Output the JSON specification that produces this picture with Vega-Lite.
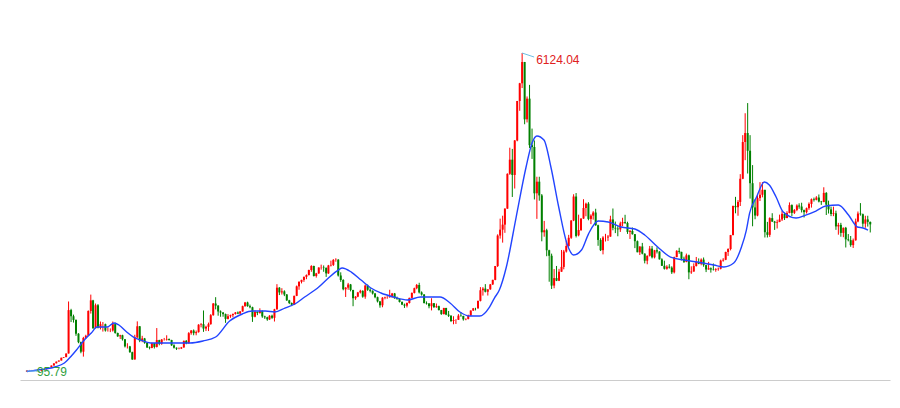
{
"$schema": "https://vega.github.io/schema/vega-lite/v6.json",
"width": 870, "height": 380,
"padding": {"left": 20, "top": 0, "right": 10, "bottom": 28},
"autosize": {"type": "none"},
"background": "white",
"config": {"view": {"stroke": null}},
"datasets": {
"k": [
{"t":"1990-12","o":96.05,"h":127.61,"l":95.79,"c":127.61},
{"t":"1991-01","o":127.61,"h":135,"l":127,"c":129.97},
{"t":"1991-02","o":130,"h":134.9,"l":129,"c":133.97},
{"t":"1991-03","o":134,"h":134.9,"l":118,"c":120.19},
{"t":"1991-04","o":120,"h":120.5,"l":112,"c":113.94},
{"t":"1991-05","o":114,"h":116,"l":104.96,"c":114.83},
{"t":"1991-06","o":115,"h":137.6,"l":114,"c":137.56},
{"t":"1991-07","o":137.6,"h":146,"l":136,"c":145.47},
{"t":"1991-08","o":145.5,"h":181,"l":145,"c":180.9},
{"t":"1991-09","o":181,"h":184,"l":177,"c":180.2},
{"t":"1991-10","o":180,"h":219,"l":180,"c":218.6},
{"t":"1991-11","o":219,"h":260,"l":219,"c":259.6},
{"t":"1991-12","o":260,"h":293,"l":259,"c":292.75},
{"t":"1992-01","o":293,"h":313,"l":292,"c":313.2},
{"t":"1992-02","o":313,"h":366,"l":313,"c":365.8},
{"t":"1992-03","o":366,"h":378,"l":360,"c":377.4},
{"t":"1992-04","o":377,"h":446,"l":376,"c":445.7},
{"t":"1992-05","o":446,"h":1429,"l":445,"c":1266},
{"t":"1992-06","o":1266,"h":1290,"l":1040,"c":1150},
{"t":"1992-07","o":1150,"h":1180,"l":1030,"c":1080},
{"t":"1992-08","o":1080,"h":1090,"l":780,"c":820},
{"t":"1992-09","o":820,"h":830,"l":640,"c":660},
{"t":"1992-10","o":660,"h":670,"l":450,"c":480},
{"t":"1992-11","o":480,"h":760,"l":386.85,"c":740},
{"t":"1992-12","o":740,"h":800,"l":720,"c":780.39},
{"t":"1993-01","o":780,"h":1260,"l":780,"c":1250},
{"t":"1993-02","o":1250,"h":1558.95,"l":1200,"c":1450},
{"t":"1993-03","o":1450,"h":1460,"l":910,"c":925},
{"t":"1993-04","o":925,"h":1390,"l":920,"c":1358},
{"t":"1993-05","o":1358,"h":1380,"l":920,"c":935},
{"t":"1993-06","o":935,"h":1050,"l":900,"c":1000},
{"t":"1993-07","o":1000,"h":1040,"l":860,"c":1000},
{"t":"1993-08","o":1000,"h":1010,"l":860,"c":880},
{"t":"1993-09","o":880,"h":940,"l":860,"c":880},
{"t":"1993-10","o":880,"h":920,"l":850,"c":880},
{"t":"1993-11","o":880,"h":1050,"l":860,"c":1000},
{"t":"1993-12","o":1000,"h":1030,"l":820,"c":833.8},
{"t":"1994-01","o":834,"h":840,"l":760,"c":770},
{"t":"1994-02","o":770,"h":800,"l":720,"c":790},
{"t":"1994-03","o":790,"h":800,"l":690,"c":715},
{"t":"1994-04","o":715,"h":720,"l":560,"c":580},
{"t":"1994-05","o":580,"h":640,"l":540,"c":580},
{"t":"1994-06","o":580,"h":590,"l":460,"c":470},
{"t":"1994-07","o":470,"h":480,"l":325.89,"c":333},
{"t":"1994-08","o":333,"h":800,"l":330,"c":750},
{"t":"1994-09","o":750,"h":1052.94,"l":740,"c":960},
{"t":"1994-10","o":960,"h":965,"l":660,"c":690},
{"t":"1994-11","o":690,"h":780,"l":660,"c":730},
{"t":"1994-12","o":730,"h":740,"l":630,"c":647.87},
{"t":"1995-01","o":648,"h":660,"l":550,"c":560},
{"t":"1995-02","o":560,"h":580,"l":524,"c":550},
{"t":"1995-03","o":550,"h":650,"l":545,"c":640},
{"t":"1995-04","o":640,"h":645,"l":540,"c":570},
{"t":"1995-05","o":570,"h":926.41,"l":560,"c":700},
{"t":"1995-06","o":700,"h":705,"l":600,"c":630},
{"t":"1995-07","o":630,"h":720,"l":610,"c":710},
{"t":"1995-08","o":710,"h":740,"l":690,"c":710},
{"t":"1995-09","o":710,"h":790,"l":690,"c":720},
{"t":"1995-10","o":720,"h":730,"l":690,"c":700},
{"t":"1995-11","o":700,"h":705,"l":590,"c":600},
{"t":"1995-12","o":600,"h":620,"l":540,"c":555.29},
{"t":"1996-01","o":555,"h":560,"l":512.83,"c":537},
{"t":"1996-02","o":537,"h":560,"l":525,"c":540},
{"t":"1996-03","o":540,"h":570,"l":530,"c":560},
{"t":"1996-04","o":560,"h":690,"l":555,"c":685},
{"t":"1996-05","o":685,"h":700,"l":620,"c":640},
{"t":"1996-06","o":640,"h":850,"l":635,"c":830},
{"t":"1996-07","o":830,"h":890,"l":800,"c":880},
{"t":"1996-08","o":880,"h":900,"l":790,"c":830},
{"t":"1996-09","o":830,"h":880,"l":790,"c":850},
{"t":"1996-10","o":850,"h":1000,"l":840,"c":990},
{"t":"1996-11","o":990,"h":1020,"l":940,"c":1000},
{"t":"1996-12","o":1000,"h":1258.69,"l":855,"c":917},
{"t":"1997-01","o":917,"h":970,"l":870,"c":950},
{"t":"1997-02","o":950,"h":1030,"l":870,"c":1000},
{"t":"1997-03","o":1000,"h":1190,"l":990,"c":1170},
{"t":"1997-04","o":1170,"h":1400,"l":1160,"c":1390},
{"t":"1997-05","o":1390,"h":1510.18,"l":1280,"c":1350},
{"t":"1997-06","o":1350,"h":1360,"l":1160,"c":1240},
{"t":"1997-07","o":1240,"h":1260,"l":1140,"c":1220},
{"t":"1997-08","o":1220,"h":1230,"l":1140,"c":1190},
{"t":"1997-09","o":1190,"h":1200,"l":1025,"c":1100},
{"t":"1997-10","o":1100,"h":1190,"l":1090,"c":1150},
{"t":"1997-11","o":1150,"h":1180,"l":1120,"c":1170},
{"t":"1997-12","o":1170,"h":1200,"l":1130,"c":1194},
{"t":"1998-01","o":1194,"h":1230,"l":1180,"c":1220},
{"t":"1998-02","o":1220,"h":1240,"l":1190,"c":1200},
{"t":"1998-03","o":1200,"h":1250,"l":1195,"c":1240},
{"t":"1998-04","o":1240,"h":1350,"l":1235,"c":1340},
{"t":"1998-05","o":1340,"h":1420,"l":1330,"c":1410},
{"t":"1998-06","o":1410,"h":1425,"l":1330,"c":1340},
{"t":"1998-07","o":1340,"h":1370,"l":1300,"c":1320},
{"t":"1998-08","o":1320,"h":1330,"l":1043,"c":1140},
{"t":"1998-09","o":1140,"h":1260,"l":1130,"c":1230},
{"t":"1998-10","o":1230,"h":1240,"l":1170,"c":1210},
{"t":"1998-11","o":1210,"h":1300,"l":1200,"c":1250},
{"t":"1998-12","o":1250,"h":1260,"l":1120,"c":1146},
{"t":"1999-01","o":1146,"h":1160,"l":1100,"c":1130},
{"t":"1999-02","o":1130,"h":1140,"l":1064,"c":1090},
{"t":"1999-03","o":1090,"h":1170,"l":1080,"c":1160},
{"t":"1999-04","o":1160,"h":1180,"l":1100,"c":1120},
{"t":"1999-05","o":1120,"h":1290,"l":1050,"c":1280},
{"t":"1999-06","o":1280,"h":1756,"l":1275,"c":1690},
{"t":"1999-07","o":1690,"h":1700,"l":1550,"c":1600},
{"t":"1999-08","o":1600,"h":1680,"l":1560,"c":1620},
{"t":"1999-09","o":1620,"h":1640,"l":1530,"c":1560},
{"t":"1999-10","o":1560,"h":1570,"l":1440,"c":1450},
{"t":"1999-11","o":1450,"h":1460,"l":1380,"c":1400},
{"t":"1999-12","o":1400,"h":1410,"l":1341,"c":1367},
{"t":"2000-01","o":1367,"h":1540,"l":1361,"c":1535},
{"t":"2000-02","o":1535,"h":1730,"l":1530,"c":1715},
{"t":"2000-03","o":1715,"h":1810,"l":1650,"c":1800},
{"t":"2000-04","o":1800,"h":1840,"l":1770,"c":1836},
{"t":"2000-05","o":1836,"h":1900,"l":1800,"c":1894},
{"t":"2000-06","o":1894,"h":1940,"l":1850,"c":1928},
{"t":"2000-07","o":1928,"h":2030,"l":1920,"c":2023},
{"t":"2000-08","o":2023,"h":2114,"l":1990,"c":2100},
{"t":"2000-09","o":2100,"h":2105,"l":1900,"c":1910},
{"t":"2000-10","o":1910,"h":1970,"l":1880,"c":1960},
{"t":"2000-11","o":1960,"h":2075,"l":1950,"c":2070},
{"t":"2000-12","o":2070,"h":2125,"l":2030,"c":2073},
{"t":"2001-01","o":2073,"h":2110,"l":1990,"c":2065},
{"t":"2001-02","o":2065,"h":2070,"l":1893,"c":1960},
{"t":"2001-03","o":1960,"h":2120,"l":1950,"c":2110},
{"t":"2001-04","o":2110,"h":2200,"l":2090,"c":2120},
{"t":"2001-05","o":2120,"h":2230,"l":2100,"c":2214},
{"t":"2001-06","o":2214,"h":2245.44,"l":2180,"c":2218},
{"t":"2001-07","o":2218,"h":2230,"l":1900,"c":1920},
{"t":"2001-08","o":1920,"h":1980,"l":1800,"c":1835},
{"t":"2001-09","o":1835,"h":1850,"l":1640,"c":1660},
{"t":"2001-10","o":1660,"h":1700,"l":1514,"c":1690},
{"t":"2001-11","o":1690,"h":1780,"l":1650,"c":1750},
{"t":"2001-12","o":1750,"h":1760,"l":1620,"c":1646},
{"t":"2002-01","o":1646,"h":1650,"l":1339,"c":1490},
{"t":"2002-02","o":1490,"h":1530,"l":1460,"c":1520},
{"t":"2002-03","o":1520,"h":1610,"l":1510,"c":1600},
{"t":"2002-04","o":1600,"h":1650,"l":1580,"c":1630},
{"t":"2002-05","o":1630,"h":1640,"l":1500,"c":1520},
{"t":"2002-06","o":1520,"h":1748,"l":1480,"c":1730},
{"t":"2002-07","o":1730,"h":1750,"l":1630,"c":1650},
{"t":"2002-08","o":1650,"h":1680,"l":1600,"c":1630},
{"t":"2002-09","o":1630,"h":1640,"l":1560,"c":1580},
{"t":"2002-10","o":1580,"h":1590,"l":1490,"c":1510},
{"t":"2002-11","o":1510,"h":1520,"l":1410,"c":1430},
{"t":"2002-12","o":1430,"h":1440,"l":1311,"c":1357},
{"t":"2003-01","o":1357,"h":1510,"l":1320,"c":1500},
{"t":"2003-02","o":1500,"h":1520,"l":1470,"c":1510},
{"t":"2003-03","o":1510,"h":1530,"l":1480,"c":1510},
{"t":"2003-04","o":1510,"h":1650,"l":1500,"c":1520},
{"t":"2003-05","o":1520,"h":1590,"l":1500,"c":1580},
{"t":"2003-06","o":1580,"h":1590,"l":1480,"c":1490},
{"t":"2003-07","o":1490,"h":1520,"l":1460,"c":1476},
{"t":"2003-08","o":1476,"h":1490,"l":1410,"c":1420},
{"t":"2003-09","o":1420,"h":1430,"l":1360,"c":1370},
{"t":"2003-10","o":1370,"h":1390,"l":1307,"c":1350},
{"t":"2003-11","o":1350,"h":1410,"l":1316,"c":1400},
{"t":"2003-12","o":1400,"h":1500,"l":1390,"c":1497},
{"t":"2004-01","o":1497,"h":1600,"l":1490,"c":1590},
{"t":"2004-02","o":1590,"h":1690,"l":1580,"c":1680},
{"t":"2004-03","o":1680,"h":1760,"l":1660,"c":1740},
{"t":"2004-04","o":1740,"h":1783,"l":1580,"c":1600},
{"t":"2004-05","o":1600,"h":1620,"l":1540,"c":1560},
{"t":"2004-06","o":1560,"h":1570,"l":1390,"c":1400},
{"t":"2004-07","o":1400,"h":1430,"l":1370,"c":1390},
{"t":"2004-08","o":1390,"h":1400,"l":1300,"c":1340},
{"t":"2004-09","o":1340,"h":1490,"l":1260,"c":1396},
{"t":"2004-10","o":1396,"h":1400,"l":1310,"c":1320},
{"t":"2004-11","o":1320,"h":1390,"l":1310,"c":1340},
{"t":"2004-12","o":1340,"h":1350,"l":1259,"c":1266},
{"t":"2005-01","o":1266,"h":1270,"l":1177,"c":1190},
{"t":"2005-02","o":1190,"h":1310,"l":1185,"c":1306},
{"t":"2005-03","o":1306,"h":1310,"l":1170,"c":1181},
{"t":"2005-04","o":1181,"h":1250,"l":1136,"c":1159},
{"t":"2005-05","o":1159,"h":1170,"l":1040,"c":1060},
{"t":"2005-06","o":1060,"h":1150,"l":998.23,"c":1080},
{"t":"2005-07","o":1080,"h":1090,"l":1004,"c":1083},
{"t":"2005-08","o":1083,"h":1190,"l":1080,"c":1162},
{"t":"2005-09","o":1162,"h":1230,"l":1140,"c":1155},
{"t":"2005-10","o":1155,"h":1160,"l":1067,"c":1092},
{"t":"2005-11","o":1092,"h":1110,"l":1074,"c":1099},
{"t":"2005-12","o":1099,"h":1180,"l":1090,"c":1161},
{"t":"2006-01","o":1161,"h":1260,"l":1160,"c":1258},
{"t":"2006-02","o":1258,"h":1306,"l":1250,"c":1299},
{"t":"2006-03","o":1299,"h":1310,"l":1260,"c":1298},
{"t":"2006-04","o":1298,"h":1445,"l":1295,"c":1440},
{"t":"2006-05","o":1440,"h":1700,"l":1430,"c":1641},
{"t":"2006-06","o":1641,"h":1700,"l":1540,"c":1672},
{"t":"2006-07","o":1672,"h":1757,"l":1600,"c":1613},
{"t":"2006-08","o":1613,"h":1660,"l":1541,"c":1658},
{"t":"2006-09","o":1658,"h":1760,"l":1650,"c":1752},
{"t":"2006-10","o":1752,"h":1840,"l":1740,"c":1837},
{"t":"2006-11","o":1837,"h":2100,"l":1830,"c":2099},
{"t":"2006-12","o":2099,"h":2698,"l":2080,"c":2675},
{"t":"2007-01","o":2675,"h":2994,"l":2617,"c":2786},
{"t":"2007-02","o":2786,"h":3050,"l":2541,"c":2881},
{"t":"2007-03","o":2881,"h":3190,"l":2726,"c":3183},
{"t":"2007-04","o":3183,"h":3850,"l":3180,"c":3841},
{"t":"2007-05","o":3841,"h":4335,"l":3822,"c":4109},
{"t":"2007-06","o":4109,"h":4312,"l":3404,"c":3820},
{"t":"2007-07","o":3820,"h":4480,"l":3563,"c":4471},
{"t":"2007-08","o":4471,"h":5218,"l":4456,"c":5218},
{"t":"2007-09","o":5218,"h":5560,"l":5032,"c":5552},
{"t":"2007-10","o":5552,"h":6124.04,"l":5462,"c":5954},
{"t":"2007-11","o":5954,"h":5956,"l":4778,"c":4871},
{"t":"2007-12","o":4871,"h":5303,"l":4812,"c":5262},
{"t":"2008-01","o":5262,"h":5522,"l":4330,"c":4383},
{"t":"2008-02","o":4383,"h":4696,"l":4123,"c":4348},
{"t":"2008-03","o":4348,"h":4472,"l":3357,"c":3473},
{"t":"2008-04","o":3473,"h":3786,"l":2990,"c":3693},
{"t":"2008-05","o":3693,"h":3786,"l":3333,"c":3433},
{"t":"2008-06","o":3433,"h":3459,"l":2566,"c":2736},
{"t":"2008-07","o":2736,"h":2952,"l":2653,"c":2775},
{"t":"2008-08","o":2775,"h":2803,"l":2284,"c":2397},
{"t":"2008-09","o":2397,"h":2406,"l":1802,"c":2293},
{"t":"2008-10","o":2293,"h":2333,"l":1664.93,"c":1729},
{"t":"2008-11","o":1729,"h":2041,"l":1678,"c":1871},
{"t":"2008-12","o":1871,"h":2100,"l":1814,"c":1821},
{"t":"2009-01","o":1821,"h":2045,"l":1814,"c":1991},
{"t":"2009-02","o":1991,"h":2402,"l":1991,"c":2082},
{"t":"2009-03","o":2082,"h":2403,"l":2037,"c":2373},
{"t":"2009-04","o":2373,"h":2579,"l":2353,"c":2477},
{"t":"2009-05","o":2477,"h":2688,"l":2461,"c":2633},
{"t":"2009-06","o":2633,"h":2965,"l":2612,"c":2959},
{"t":"2009-07","o":2959,"h":3455,"l":2947,"c":3412},
{"t":"2009-08","o":3412,"h":3478,"l":2639,"c":2667},
{"t":"2009-09","o":2680,"h":3069,"l":2660,"c":2779},
{"t":"2009-10","o":2779,"h":3000,"l":2760,"c":2996},
{"t":"2009-11","o":2996,"h":3361,"l":2990,"c":3195},
{"t":"2009-12","o":3195,"h":3296,"l":3039,"c":3277},
{"t":"2010-01","o":3277,"h":3306,"l":2963,"c":2989},
{"t":"2010-02","o":2989,"h":3076,"l":2890,"c":3051},
{"t":"2010-03","o":3051,"h":3136,"l":2975,"c":3110},
{"t":"2010-04","o":3110,"h":3181,"l":2859,"c":2870},
{"t":"2010-05","o":2870,"h":2880,"l":2481,"c":2592},
{"t":"2010-06","o":2592,"h":2624,"l":2382,"c":2398},
{"t":"2010-07","o":2398,"h":2663,"l":2319,"c":2638},
{"t":"2010-08","o":2638,"h":2707,"l":2562,"c":2638},
{"t":"2010-09","o":2638,"h":2684,"l":2573,"c":2655},
{"t":"2010-10","o":2655,"h":3049,"l":2652,"c":2979},
{"t":"2010-11","o":2979,"h":3186,"l":2774,"c":2820},
{"t":"2010-12","o":2820,"h":2939,"l":2721,"c":2808},
{"t":"2011-01","o":2808,"h":2852,"l":2661,"c":2791},
{"t":"2011-02","o":2791,"h":2937,"l":2743,"c":2905},
{"t":"2011-03","o":2905,"h":3011,"l":2851,"c":2928},
{"t":"2011-04","o":2928,"h":3067,"l":2895,"c":2911},
{"t":"2011-05","o":2911,"h":2936,"l":2706,"c":2743},
{"t":"2011-06","o":2743,"h":2780,"l":2610,"c":2762},
{"t":"2011-07","o":2762,"h":2826,"l":2692,"c":2701},
{"t":"2011-08","o":2701,"h":2703,"l":2437,"c":2568},
{"t":"2011-09","o":2568,"h":2581,"l":2359,"c":2359},
{"t":"2011-10","o":2359,"h":2472,"l":2307,"c":2468},
{"t":"2011-11","o":2468,"h":2536,"l":2319,"c":2333},
{"t":"2011-12","o":2333,"h":2339,"l":2149,"c":2199},
{"t":"2012-01","o":2199,"h":2300,"l":2132,"c":2292},
{"t":"2012-02","o":2292,"h":2478,"l":2279,"c":2428},
{"t":"2012-03","o":2428,"h":2478,"l":2242,"c":2263},
{"t":"2012-04","o":2263,"h":2404,"l":2243,"c":2397},
{"t":"2012-05","o":2397,"h":2453,"l":2336,"c":2373},
{"t":"2012-06","o":2373,"h":2377,"l":2221,"c":2225},
{"t":"2012-07","o":2225,"h":2246,"l":2100,"c":2103},
{"t":"2012-08","o":2103,"h":2200,"l":2032,"c":2047},
{"t":"2012-09","o":2047,"h":2114,"l":2029,"c":2086},
{"t":"2012-10","o":2086,"h":2133,"l":2051,"c":2069},
{"t":"2012-11","o":2069,"h":2094,"l":1949,"c":1980},
{"t":"2012-12","o":1980,"h":2276,"l":1959,"c":2269},
{"t":"2013-01","o":2269,"h":2398,"l":2264,"c":2385},
{"t":"2013-02","o":2385,"h":2444,"l":2330,"c":2366},
{"t":"2013-03","o":2366,"h":2368,"l":2205,"c":2237},
{"t":"2013-04","o":2237,"h":2276,"l":2156,"c":2178},
{"t":"2013-05","o":2178,"h":2334,"l":2170,"c":2301},
{"t":"2013-06","o":2301,"h":2314,"l":1849,"c":1979},
{"t":"2013-07","o":1979,"h":2093,"l":1951,"c":1994},
{"t":"2013-08","o":1994,"h":2150,"l":1993,"c":2098},
{"t":"2013-09","o":2098,"h":2270,"l":2090,"c":2175},
{"t":"2013-10","o":2175,"h":2243,"l":2133,"c":2141},
{"t":"2013-11","o":2141,"h":2243,"l":2113,"c":2220},
{"t":"2013-12","o":2220,"h":2260,"l":2085,"c":2116},
{"t":"2014-01","o":2116,"h":2120,"l":1984,"c":2033},
{"t":"2014-02","o":2033,"h":2177,"l":2030,"c":2056},
{"t":"2014-03","o":2056,"h":2073,"l":1974,"c":2033},
{"t":"2014-04","o":2033,"h":2147,"l":2014,"c":2026},
{"t":"2014-05","o":2026,"h":2058,"l":1991,"c":2039},
{"t":"2014-06","o":2039,"h":2071,"l":2010,"c":2048},
{"t":"2014-07","o":2048,"h":2219,"l":2035,"c":2202},
{"t":"2014-08","o":2202,"h":2248,"l":2181,"c":2217},
{"t":"2014-09","o":2217,"h":2370,"l":2210,"c":2364},
{"t":"2014-10","o":2364,"h":2434,"l":2290,"c":2420},
{"t":"2014-11","o":2420,"h":2687,"l":2394,"c":2683},
{"t":"2014-12","o":2683,"h":3239,"l":2680,"c":3235},
{"t":"2015-01","o":3235,"h":3406,"l":3095,"c":3210},
{"t":"2015-02","o":3210,"h":3345,"l":3049,"c":3310},
{"t":"2015-03","o":3310,"h":3835,"l":3233,"c":3748},
{"t":"2015-04","o":3748,"h":4572,"l":3740,"c":4442},
{"t":"2015-05","o":4442,"h":4986,"l":4099,"c":4612},
{"t":"2015-06","o":4612,"h":5178.19,"l":3847,"c":4277},
{"t":"2015-07","o":4277,"h":4572,"l":3373,"c":3664},
{"t":"2015-08","o":3664,"h":4006,"l":2850,"c":3206},
{"t":"2015-09","o":3206,"h":3358,"l":2983,"c":3053},
{"t":"2015-10","o":3053,"h":3462,"l":3039,"c":3383},
{"t":"2015-11","o":3383,"h":3684,"l":3327,"c":3445},
{"t":"2015-12","o":3445,"h":3684,"l":3397,"c":3539},
{"t":"2016-01","o":3539,"h":3539,"l":2638,"c":2738},
{"t":"2016-02","o":2738,"h":2933,"l":2638,"c":2688},
{"t":"2016-03","o":2688,"h":3019,"l":2649,"c":3004},
{"t":"2016-04","o":3004,"h":3097,"l":2934,"c":2938},
{"t":"2016-05","o":2938,"h":2951,"l":2781,"c":2917},
{"t":"2016-06","o":2917,"h":2974,"l":2808,"c":2930},
{"t":"2016-07","o":2930,"h":3070,"l":2928,"c":2979},
{"t":"2016-08","o":2979,"h":3140,"l":2950,"c":3085},
{"t":"2016-09","o":3085,"h":3109,"l":2969,"c":3005},
{"t":"2016-10","o":3005,"h":3134,"l":3004,"c":3100},
{"t":"2016-11","o":3100,"h":3301,"l":3096,"c":3250},
{"t":"2016-12","o":3250,"h":3264,"l":3044,"c":3104},
{"t":"2017-01","o":3104,"h":3174,"l":3083,"c":3159},
{"t":"2017-02","o":3159,"h":3265,"l":3135,"c":3242},
{"t":"2017-03","o":3242,"h":3284,"l":3181,"c":3223},
{"t":"2017-04","o":3223,"h":3295,"l":3111,"c":3155},
{"t":"2017-05","o":3155,"h":3166,"l":3016,"c":3117},
{"t":"2017-06","o":3117,"h":3204,"l":3092,"c":3192},
{"t":"2017-07","o":3192,"h":3301,"l":3161,"c":3273},
{"t":"2017-08","o":3273,"h":3375,"l":3203,"c":3361},
{"t":"2017-09","o":3361,"h":3392,"l":3317,"c":3349},
{"t":"2017-10","o":3349,"h":3419,"l":3340,"c":3393},
{"t":"2017-11","o":3393,"h":3451,"l":3301,"c":3317},
{"t":"2017-12","o":3317,"h":3329,"l":3254,"c":3307},
{"t":"2018-01","o":3307,"h":3587,"l":3307,"c":3481},
{"t":"2018-02","o":3481,"h":3495,"l":3063,"c":3259},
{"t":"2018-03","o":3259,"h":3334,"l":3091,"c":3169},
{"t":"2018-04","o":3169,"h":3220,"l":3041,"c":3082},
{"t":"2018-05","o":3082,"h":3220,"l":3041,"c":3095},
{"t":"2018-06","o":3095,"h":3145,"l":2782,"c":2847},
{"t":"2018-07","o":2847,"h":2915,"l":2691,"c":2876},
{"t":"2018-08","o":2876,"h":2915,"l":2653,"c":2725},
{"t":"2018-09","o":2725,"h":2827,"l":2644,"c":2821},
{"t":"2018-10","o":2821,"h":2838,"l":2449,"c":2603},
{"t":"2018-11","o":2603,"h":2703,"l":2565,"c":2588},
{"t":"2018-12","o":2588,"h":2666,"l":2463,"c":2494},
{"t":"2019-01","o":2494,"h":2618,"l":2440,"c":2585},
{"t":"2019-02","o":2585,"h":2995,"l":2578,"c":2941},
{"t":"2019-03","o":2941,"h":3129,"l":2926,"c":3091},
{"t":"2019-04","o":3091,"h":3288,"l":3051,"c":3078},
{"t":"2019-05","o":3078,"h":3090,"l":2838,"c":2899},
{"t":"2019-06","o":2899,"h":3049,"l":2822,"c":2979},
{"t":"2019-07","o":2979,"h":3049,"l":2844,"c":2933},
{"t":"2019-08","o":2933,"h":2939,"l":2733,"c":2886}
],
"ma": [
{"t":"1990-12-01","v":105},{"t":"1991-04-13","v":134},{"t":"1991-11-10","v":190},{"t":"1992-03-10","v":266},
{"t":"1992-06-04","v":398},{"t":"1992-08-07","v":512},{"t":"1992-11-13","v":700},{"t":"1993-02-07","v":833},
{"t":"1993-04-19","v":946},{"t":"1993-08-22","v":946},{"t":"1993-11-16","v":1022},{"t":"1994-01-16","v":984},
{"t":"1994-04-22","v":852},{"t":"1994-07-16","v":757},{"t":"1994-10-13","v":700},{"t":"1995-02-13","v":644},
{"t":"1995-07-19","v":644},{"t":"1996-01-28","v":644},{"t":"1996-06-16","v":644},{"t":"1996-11-25","v":682},
{"t":"1997-05-01","v":757},{"t":"1997-10-22","v":1060},{"t":"1998-03-28","v":1192},{"t":"1998-07-28","v":1248},
{"t":"1999-01-07","v":1248},{"t":"1999-05-07","v":1230},{"t":"1999-09-07","v":1305},{"t":"2000-01-10","v":1381},
{"t":"2000-05-10","v":1513},{"t":"2000-11-01","v":1702},{"t":"2001-03-01","v":1872},{"t":"2001-07-01","v":2023},
{"t":"2001-08-19","v":2061},{"t":"2001-12-10","v":1985},{"t":"2002-04-10","v":1834},{"t":"2002-08-10","v":1683},
{"t":"2002-12-13","v":1589},{"t":"2003-05-19","v":1513},{"t":"2003-11-07","v":1456},{"t":"2004-04-16","v":1513},
{"t":"2004-12-16","v":1513},{"t":"2005-04-19","v":1400},{"t":"2005-08-19","v":1230},{"t":"2005-12-19","v":1154},
{"t":"2006-04-22","v":1154},{"t":"2006-08-22","v":1324},{"t":"2006-10-22","v":1494},{"t":"2006-12-22","v":1645},
{"t":"2007-03-19","v":2080},{"t":"2007-07-19","v":3025},{"t":"2007-11-19","v":3970},{"t":"2008-02-01","v":4423},
{"t":"2008-04-01","v":4556},{"t":"2008-06-28","v":4480},{"t":"2008-09-22","v":3970},{"t":"2008-12-28","v":3214},
{"t":"2009-04-07","v":2534},{"t":"2009-07-01","v":2307},{"t":"2009-10-07","v":2401},{"t":"2010-01-01","v":2703},
{"t":"2010-05-01","v":2949},{"t":"2010-09-04","v":2930},{"t":"2011-02-10","v":2836},{"t":"2011-08-01","v":2798},
{"t":"2011-12-01","v":2685},{"t":"2012-05-10","v":2458},{"t":"2012-10-16","v":2269},{"t":"2013-04-04","v":2212},
{"t":"2013-09-13","v":2174},{"t":"2014-04-07","v":2118},{"t":"2014-08-10","v":2080},{"t":"2014-12-10","v":2155},
{"t":"2015-03-16","v":2458},{"t":"2015-05-16","v":2779},{"t":"2015-06-25","v":3100},{"t":"2015-09-19","v":3403},
{"t":"2015-12-25","v":3686},{"t":"2016-02-25","v":3630},{"t":"2016-05-19","v":3403},{"t":"2016-08-16","v":3119},
{"t":"2017-01-22","v":3006},{"t":"2017-05-22","v":3062},{"t":"2017-09-25","v":3138},{"t":"2018-01-25","v":3232},
{"t":"2018-07-01","v":3251},{"t":"2018-11-04","v":3062},{"t":"2019-02-22","v":2836},{"t":"2019-05-04","v":2817},
{"t":"2019-07-04","v":2779}
],
"ann": [
{"t":"2007-10","v":6124.04,"lab":"6124.04","kind":"max"},
{"t":"1990-12","v":95.79,"lab":"95.79","kind":"min"}
]
},
"layer": [
{"data":{"name":"k"},"mark":{"type":"rule","strokeWidth":1},
 "encoding":{
  "x":{"field":"t","type":"temporal","scale":{"domain":[{"year":1990,"month":11,"date":7},{"year":2020,"month":1,"date":31}]},"axis":{"title":null,"labels":false,"ticks":false,"grid":false,"domainColor":"#cccccc"}},
  "y":{"field":"l","type":"quantitative","scale":{"domain":[-55,7126],"nice":false,"zero":false},"axis":null},
  "y2":{"field":"h"},
  "color":{"condition":{"test":"datum.c >= datum.o","value":"#ff0000"},"value":"#008000"}}},
{"data":{"name":"k"},"mark":{"type":"bar","width":2},
 "encoding":{
  "x":{"field":"t","type":"temporal","axis":{"title":null,"labels":false,"ticks":false,"grid":false,"domainColor":"#cccccc"}},
  "y":{"field":"o","type":"quantitative","axis":null},
  "y2":{"field":"c"},
  "color":{"condition":{"test":"datum.c >= datum.o","value":"#ff0000"},"value":"#008000"}}},
{"data":{"name":"ma"},"mark":{"type":"line","color":"#2244ff","strokeWidth":1.4,"interpolate":"monotone"},
 "encoding":{
  "x":{"field":"t","type":"temporal","axis":{"title":null,"labels":false,"ticks":false,"grid":false,"domainColor":"#cccccc"}},
  "y":{"field":"v","type":"quantitative","axis":null}}},
{"data":{"name":"ann"},"transform":[{"filter":"datum.kind == 'max'"}],
 "mark":{"type":"rule","color":"#6cc0e4","strokeWidth":1,"x2Offset":12,"y2Offset":4},
 "encoding":{
  "x":{"field":"t","type":"temporal","axis":{"title":null,"labels":false,"ticks":false,"grid":false,"domainColor":"#cccccc"}},
  "y":{"field":"v","type":"quantitative","axis":null},
  "x2":{"field":"t"},"y2":{"field":"v"}}},
{"data":{"name":"ann"},"transform":[{"filter":"datum.kind == 'min'"}],
 "mark":{"type":"rule","color":"#6cc0e4","strokeWidth":1,"xOffset":-1,"x2Offset":13,"yOffset":-1,"y2Offset":-1},
 "encoding":{
  "x":{"field":"t","type":"temporal","axis":{"title":null,"labels":false,"ticks":false,"grid":false,"domainColor":"#cccccc"}},
  "y":{"field":"v","type":"quantitative","axis":null},
  "x2":{"field":"t"},"y2":{"field":"v"}}},
{"data":{"name":"ann"},"transform":[{"filter":"datum.kind == 'max'"}],
 "mark":{"type":"text","align":"left","baseline":"middle","dx":14,"dy":7,"font":"Liberation Sans","fontSize":12,"color":"#e02020"},
 "encoding":{
  "x":{"field":"t","type":"temporal","axis":{"title":null,"labels":false,"ticks":false,"grid":false,"domainColor":"#cccccc"}},
  "y":{"field":"v","type":"quantitative","axis":null},
  "text":{"field":"lab"}}},
{"data":{"name":"ann"},"transform":[{"filter":"datum.kind == 'min'"}],
 "mark":{"type":"text","align":"left","baseline":"middle","dx":10,"dy":0,"font":"Liberation Sans","fontSize":12,"color":"#30a040"},
 "encoding":{
  "x":{"field":"t","type":"temporal","axis":{"title":null,"labels":false,"ticks":false,"grid":false,"domainColor":"#cccccc"}},
  "y":{"field":"v","type":"quantitative","axis":null},
  "text":{"field":"lab"}}}
]
}
